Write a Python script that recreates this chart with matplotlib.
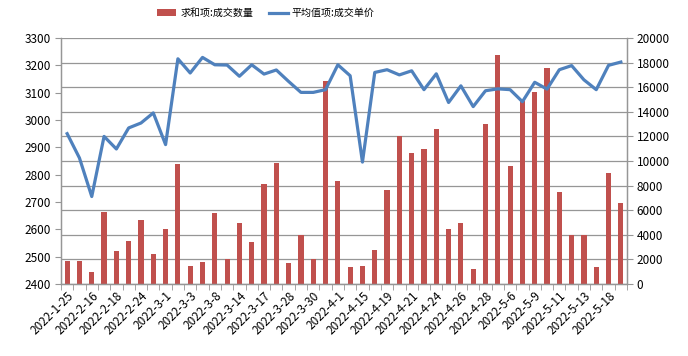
import matplotlib
matplotlib.use("Agg")
import matplotlib.pyplot as plt
import numpy as np
from matplotlib.patches import Patch
from matplotlib.lines import Line2D

plt.rcParams['font.family'] = ['Noto Sans CJK SC', 'DejaVu Sans']

# tick labels shown (every second category)
tick_labels = ["2022-1-25", "2022-2-16", "2022-2-18", "2022-2-24", "2022-3-1", "2022-3-3",
               "2022-3-8", "2022-3-14", "2022-3-17", "2022-3-28", "2022-3-30", "2022-4-1",
               "2022-4-15", "2022-4-19", "2022-4-21", "2022-4-24", "2022-4-26", "2022-4-28",
               "2022-5-6", "2022-5-9", "2022-5-11", "2022-5-13", "2022-5-18"]

# 求和项:成交数量 (bars, right axis 0-20000)
quantity = [1900, 1900, 1000, 5850, 2700, 3500, 5200, 2450, 4500, 9750,
            1500, 1800, 5800, 2000, 5000, 3400, 8100, 9850, 1700, 4000,
            2000, 16500, 8400, 1400, 1500, 2800, 7650, 12000, 10650, 11000,
            12600, 4500, 4950, 1200, 13000, 18600, 9600, 14900, 15650, 17550,
            7450, 4000, 4000, 1350, 9050, 6550]

# 平均值项:成交单价 (line, left axis 2400-3300)
price = [2950, 2861, 2720, 2940, 2894, 2971, 2989, 3026, 2910, 3224,
         3172, 3229, 3202, 3201, 3160, 3202, 3168, 3183, 3141, 3101,
         3101, 3111, 3202, 3162, 2846, 3174, 3184, 3165, 3180, 3111,
         3169, 3064, 3125, 3049, 3107, 3114, 3111, 3067, 3138, 3113,
         3184, 3199, 3147, 3111, 3200, 3212]

bar_color = "#C0504D"
line_color = "#4F81BD"
grid_color = "#969696"
spine_color = "#969696"

n = len(quantity)
x = np.arange(n)

fig = plt.figure(figsize=(6.88, 3.56), dpi=100)
ax = fig.add_axes([61/688, 1-284/356, (627-61)/688, (284-38)/356])
ax2 = ax.twinx()

# bars on right axis
ax2.bar(x, quantity, width=0.42, color=bar_color, zorder=2)
ax2.set_ylim(0, 20000)
ax2.set_yticks(np.arange(0, 20001, 2000))
ax2.yaxis.grid(True, color=grid_color, linewidth=0.9)
ax2.set_axisbelow(True)

# line on left axis
ax.plot(x, price, color=line_color, linewidth=2.3, zorder=3)
ax.set_ylim(2400, 3300)
ax.set_yticks(np.arange(2400, 3301, 100))
ax.set_zorder(ax2.get_zorder() + 1)
ax.patch.set_visible(False)

ax.set_xlim(-0.5, n - 0.5)
ax.set_xticks(np.arange(0, n, 2))
ax.set_xticklabels(tick_labels, rotation=45, ha='right', rotation_mode='anchor', fontsize=8.5)
ax.tick_params(axis='x', length=0, pad=4)
ax.set_xticks(np.arange(-0.5, n, 1), minor=True)
ax.tick_params(axis='x', which='minor', length=4, color=spine_color, direction='out')

ax.tick_params(axis='y', labelsize=8.5, length=4, color=spine_color, pad=3)
ax2.tick_params(axis='y', labelsize=8.5, length=4, color=spine_color, pad=3)

for a in (ax, ax2):
    a.spines['top'].set_visible(False)
    for s in ('left', 'right', 'bottom'):
        a.spines[s].set_color(spine_color)
        a.spines[s].set_linewidth(0.9)

handles = [Patch(facecolor=bar_color, edgecolor='none'),
           Line2D([0], [0], color=line_color, linewidth=2.3)]
fig.legend(handles, ["求和项:成交数量", "平均值项:成交单价"], loc='center',
           bbox_to_anchor=(266/688, 1-13/356), ncol=2, frameon=False, fontsize=7.2,
           handlelength=1.9, handleheight=0.7, columnspacing=1.6, handletextpad=0.4,
           borderpad=0.0)

fig.savefig("out.png", dpi=100)
